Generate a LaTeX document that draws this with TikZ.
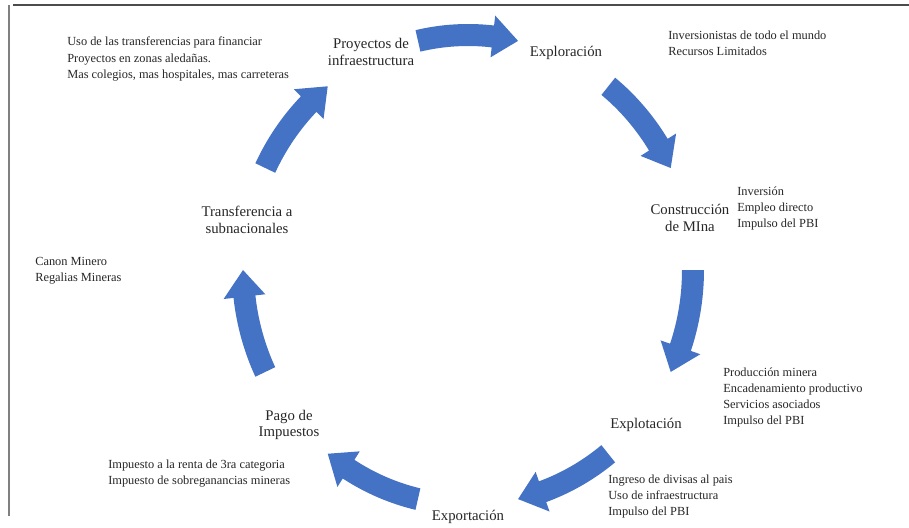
\documentclass[tikz,border=0pt]{standalone}
\usepackage{fontspec}
\setmainfont{Liberation Serif}
\definecolor{cycleblue}{HTML}{4472C4}
\tikzset{
  stage/.style={align=center, inner sep=0pt, text=black!85, font=\fontsize{10.5}{12}\selectfont},
  note/.style={align=left, anchor=north west, inner sep=0pt, text=black!85, font=\fontsize{8.8}{11.4}\selectfont},
}
\begin{document}
\begin{tikzpicture}[x=0.025cm, y=0.025cm]
\useasboundingbox (0,0) rectangle (909,527);
\def\rx{225}
\def\ry{235}
\def\hw{11}
\def\hh{21}
\def\sp{12.85}
\def\hl{6.5}
% one block arrow of the cycle, #1 = its middle angle
\def\cyclearrow#1{%
  \fill[cycleblue, shift={(C)}]
    ({#1+\sp}:{\rx+\hw} and {\ry+\hw})
    arc[start angle={#1+\sp}, end angle={#1-\sp+\hl}, x radius={\rx+\hw}, y radius={\ry+\hw}]
    -- ({#1-\sp+\hl}:{\rx+\hh} and {\ry+\hh})
    -- ({#1-\sp}:{\rx} and {\ry})
    -- ({#1-\sp+\hl}:{\rx-\hh} and {\ry-\hh})
    -- ({#1-\sp+\hl}:{\rx-\hw} and {\ry-\hw})
    arc[start angle={#1-\sp+\hl}, end angle={#1+\sp}, x radius={\rx-\hw}, y radius={\ry-\hw}]
    -- cycle;}
\coordinate (C)  at (468,257);
\coordinate (T1) at (13,522);
\coordinate (T2) at (909,522);
\coordinate (L1) at (9,522);
\coordinate (L2) at (9,11);
% frame
\draw[line width=1.4pt, gray!60!black] (T1) -- (T2);
\draw[line width=1.4pt, gray]          (L1) -- (L2);
% arrows
\cyclearrow{90}
\cyclearrow{38.57}
\cyclearrow{-12.86}
\cyclearrow{-64.29}
\cyclearrow{-115.71}
\cyclearrow{-167.14}
\cyclearrow{-218.57}
% stages
\node[stage] (proj)   at (371,475) {Proyectos de\\infraestructura};
\node[stage] (explo)  at (566,474) {Exploración};
\node[stage] (constr) at (690,309) {Construcción\\de MIna};
\node[stage] (explot) at (646,102) {Explotación};
\node[stage] (export) at (468,10)  {Exportación};
\node[stage] (pago)   at (289,102) {Pago de\\Impuestos};
\node[stage] (transf) at (247,307) {Transferencia a\\subnacionales};
% notes
\node[note] (projnote)   at (67,490)  {Uso de las transferencias para financiar\\Proyectos en zonas aledañas.\\Mas colegios, mas hospitales, mas carreteras};
\node[note] (explonote)  at (668,496) {Inversionistas de todo el mundo\\Recursos Limitados};
\node[note] (constrnote) at (737,340) {Inversión\\Empleo directo\\Impulso del PBI};
\node[note] (explotnote) at (723,159) {Producción minera\\Encadenamiento productivo\\Servicios asociados\\Impulso del PBI};
\node[note] (exportnote) at (608,52)  {Ingreso de divisas al pais\\Uso de infraestructura\\Impulso del PBI};
\node[note] (pagonote)   at (108,67)  {Impuesto a la renta de 3ra categoria\\Impuesto de sobreganancias mineras};
\node[note] (transfnote) at (35,270)  {Canon Minero\\Regalias Mineras};
\end{tikzpicture}
\end{document}
